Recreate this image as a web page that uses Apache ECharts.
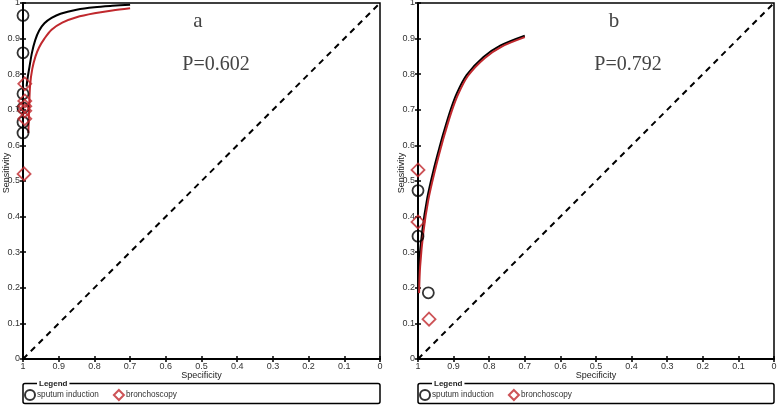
<!DOCTYPE html>
<html><head><meta charset="utf-8">
<script src="https://cdn.jsdelivr.net/npm/echarts@6/dist/echarts.min.js"></script>
<style>html,body{margin:0;padding:0;background:#fff}#c{width:778px;height:405px}</style>
</head><body><div id="c"></div>
<script>
// ---- data ----
const seriesNames = ['sputum induction', 'bronchoscopy'];
const panelLabels = ['a', 'b'];
const pLabels = ['P=0.602', 'P=0.792'];
const xAxisName = 'Specificity';
const yAxisName = 'Sensitivity';
const tickValues = [0, 0.1, 0.2, 0.3, 0.4, 0.5, 0.6, 0.7, 0.8, 0.9, 1];
// panel a  [specificity, sensitivity]
const aSputumPoints = [[1, 0.965], [1, 0.86], [1, 0.745], [1, 0.705], [1, 0.665], [1, 0.635]];
const aBronchPoints = [[0.995, 0.773], [0.995, 0.725], [0.995, 0.71], [0.995, 0.697], [0.995, 0.675], [0.997, 0.52]];
const aSputumCurve = [[0.99, 0.765], [0.987, 0.79], [0.982, 0.82], [0.975, 0.86], [0.966, 0.895], [0.955, 0.922], [0.94, 0.943], [0.92, 0.958], [0.895, 0.97], [0.85, 0.981], [0.8, 0.988], [0.75, 0.992], [0.7, 0.995]];
const aBronchCurve = [[0.985, 0.635], [0.983, 0.7], [0.98, 0.77], [0.974, 0.815], [0.965, 0.85], [0.955, 0.875], [0.94, 0.9], [0.92, 0.925], [0.89, 0.945], [0.85, 0.96], [0.8, 0.971], [0.75, 0.979], [0.7, 0.985]];
// panel b
const bSputumPoints = [[1, 0.473], [1, 0.345], [0.971, 0.186]];
const bBronchPoints = [[1, 0.531], [1, 0.385], [0.969, 0.112]];
const bSputumCurve = [[0.999, 0.19], [0.997, 0.265], [0.988, 0.36], [0.974, 0.452], [0.955, 0.536], [0.937, 0.604], [0.928, 0.636], [0.909, 0.698], [0.891, 0.746], [0.863, 0.798], [0.816, 0.848], [0.769, 0.88], [0.7, 0.908]];
const bBronchCurve = [[0.997, 0.185], [0.994, 0.26], [0.985, 0.355], [0.971, 0.447], [0.952, 0.531], [0.934, 0.6], [0.925, 0.632], [0.906, 0.694], [0.888, 0.742], [0.86, 0.795], [0.813, 0.845], [0.766, 0.877], [0.7, 0.904]];
const diagonal = [[1, 0], [0, 1]];

// ---- styles ----
const RED = '#c0282d';
const SANS = 'Liberation Sans, Arial, sans-serif';
const SERIF = 'Liberation Serif, Times New Roman, serif';
const grids = [
  {left: 23, top: 3, width: 357, height: 356},
  {left: 418, top: 3, width: 356, height: 356}
];

function xAx(g, main) {
  return {
    type: 'value', gridIndex: g, min: 0, max: 1, interval: 0.1, inverse: true, position: 'bottom',
    axisLine: {show: main, onZero: false, lineStyle: {color: '#000', width: 2}},
    axisTick: {show: true, inside: !main, length: 3, lineStyle: {color: '#000', width: 1.5}},
    axisLabel: {show: main, color: '#333', fontSize: 9, fontFamily: SANS, margin: 3,
      formatter: v => String(tickValues[Math.round(v * 10)])},
    splitLine: {show: false},
    name: main ? xAxisName : '', nameLocation: 'middle', nameGap: 12, nameMoveOverlap: false,
    nameTextStyle: {color: '#222', fontSize: 9, fontFamily: SANS}
  };
}
function yAx(g, main) {
  return {
    type: 'value', gridIndex: g, min: 0, max: 1, interval: 0.1, position: 'left',
    axisLine: {show: main, onZero: false, lineStyle: {color: '#000', width: 2}},
    axisTick: {show: true, inside: !main, length: 3, lineStyle: {color: '#000', width: 1.5}},
    axisLabel: {show: main, color: '#333', fontSize: 9, fontFamily: SANS, margin: 3,
      formatter: v => String(tickValues[Math.round(v * 10)])},
    splitLine: {show: false},
    name: main ? yAxisName : '', nameLocation: 'middle', nameGap: 12, nameRotate: 90, nameMoveOverlap: false,
    nameTextStyle: {color: '#222', fontSize: 9, fontFamily: SANS, padding: [0, 0, 0, 16]}
  };
}

const panels = [
  {sp: aSputumPoints, bp: aBronchPoints, sc: aSputumCurve, bc: aBronchCurve},
  {sp: bSputumPoints, bp: bBronchPoints, sc: bSputumCurve, bc: bBronchCurve}
];
const series = [];
panels.forEach((p, i) => {
  const ax = {xAxisIndex: i * 2, yAxisIndex: i * 2};
  series.push({type: 'line', name: 'diag' + i, ...ax, data: diagonal, showSymbol: false, silent: true,
    lineStyle: {color: '#000', width: 2, type: [6, 5]}, z: 1});
  series.push({type: 'line', name: 'curveS' + i, ...ax, data: p.sc, showSymbol: false, smooth: 0.3,
    lineStyle: {color: '#000', width: 2}, z: 2});
  series.push({type: 'line', name: 'curveB' + i, ...ax, data: p.bc, showSymbol: false, smooth: 0.3,
    lineStyle: {color: RED, width: 2}, z: 3});
  series.push({type: 'scatter', name: seriesNames[0], ...ax, data: p.sp, symbol: 'circle', symbolSize: 11,
    itemStyle: {color: 'rgba(0,0,0,0)', borderColor: '#000', borderWidth: 1.8}, z: 5});
  series.push({type: 'scatter', name: seriesNames[1], ...ax, data: p.bp, symbol: 'diamond', symbolSize: 13,
    itemStyle: {color: 'rgba(0,0,0,0)', borderColor: RED, borderWidth: 1.8}, z: 5});
});

const legendLeft = [24, 419];
const legends = legendLeft.map(l => ({
  left: l, top: 389, orient: 'horizontal', padding: 0, itemWidth: 10, itemHeight: 10, itemGap: 14,
  selectedMode: false,
  textStyle: {fontSize: 8.2, color: '#333', fontFamily: SANS, padding: [0, 0, 0, -3]},
  data: [
    {name: seriesNames[0], icon: 'circle', itemStyle: {color: '#fff', borderColor: '#000', borderWidth: 2}},
    {name: seriesNames[1], icon: 'diamond', itemStyle: {color: '#fff', borderColor: RED, borderWidth: 2}}
  ]
}));

const graphic = [];
grids.forEach((g, i) => {
  graphic.push({type: 'rect', shape: {x: g.left, y: 383.5, width: g.width, height: 20, r: 2},
    style: {fill: 'none', stroke: '#000', lineWidth: 1.5}, z: 10});
  graphic.push({type: 'text', x: g.left + 14, y: 383.5, z: 11,
    style: {text: 'Legend', font: 'bold 8px ' + SANS, fill: '#222', verticalAlign: 'middle', align: 'left',
      backgroundColor: '#fff', padding: [0, 2, 0, 2]}});
});
const labelPos = [[198, 21], [614, 21]];
const pPos = [[216, 65], [628, 65]];
panelLabels.forEach((t, i) => {
  graphic.push({type: 'text', x: labelPos[i][0], y: labelPos[i][1], z: 11,
    style: {text: t, font: '21px ' + SERIF, fill: '#444', align: 'center', verticalAlign: 'middle'}});
  graphic.push({type: 'text', x: pPos[i][0], y: pPos[i][1], z: 11,
    style: {text: pLabels[i], font: '20px ' + SERIF, fill: '#444', align: 'center', verticalAlign: 'middle'}});
});

const chart = echarts.init(document.getElementById('c'), null, {renderer: 'canvas'});
chart.setOption({
  animation: false,
  backgroundColor: '#fff',
  grid: grids.map(g => ({...g, show: true, borderColor: '#000', borderWidth: 1.5, containLabel: false, outerBoundsMode: 'none'})),
  xAxis: [xAx(0, true), xAx(0, false), xAx(1, true), xAx(1, false)],
  yAxis: [yAx(0, true), yAx(0, false), yAx(1, true), yAx(1, false)],
  legend: legends,
  series: series,
  graphic: graphic
});
</script></body></html>
